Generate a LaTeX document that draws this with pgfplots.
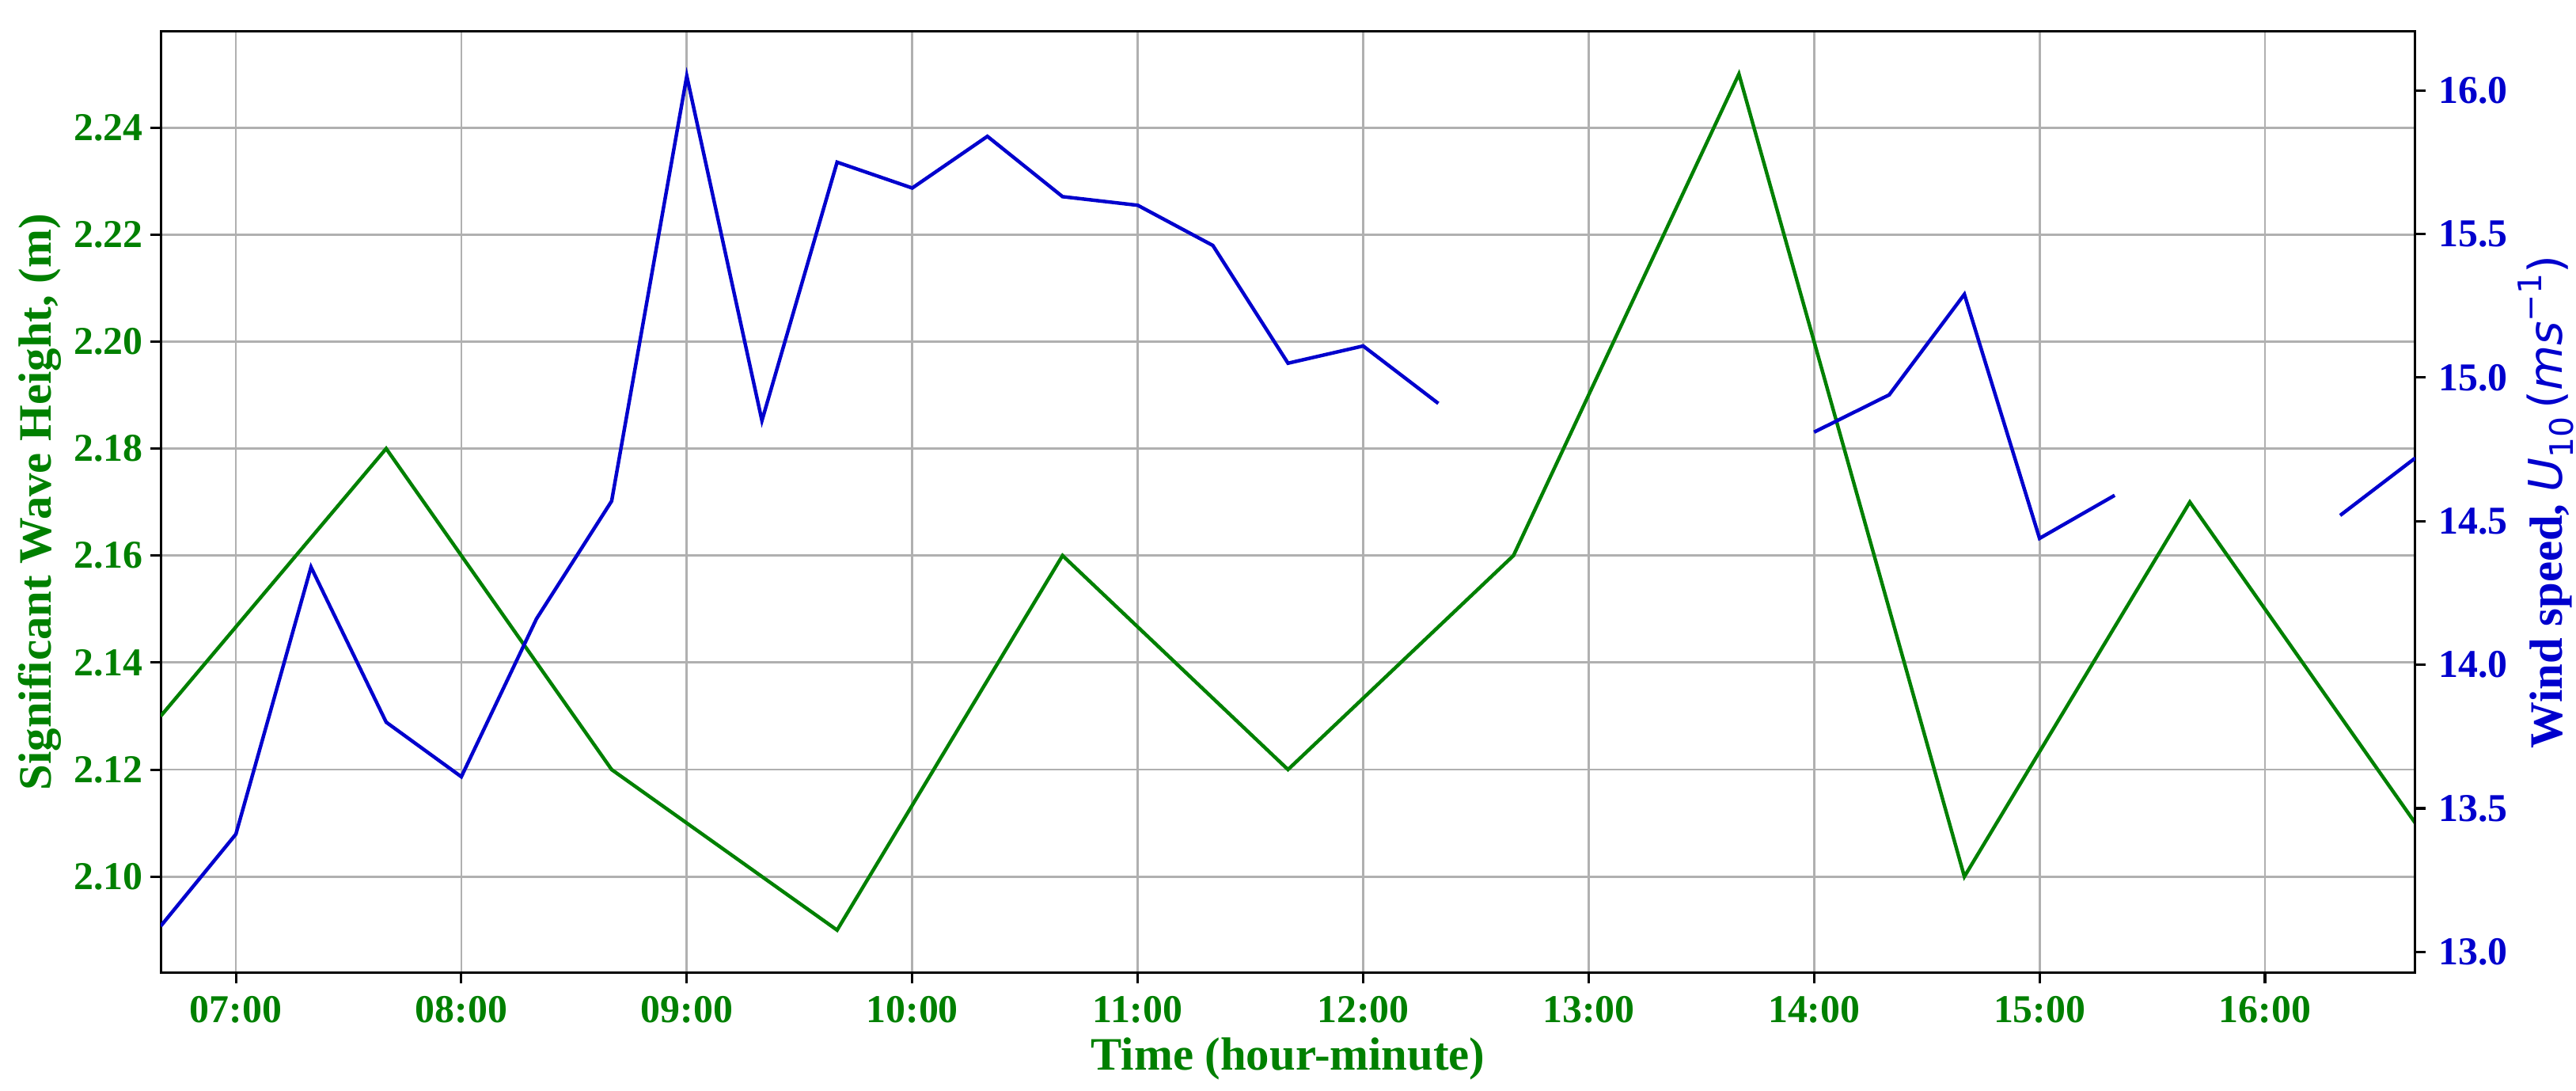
\documentclass[border=0pt]{standalone}
\usepackage{pgfplots}
\pgfplotsset{compat=1.18}
\usepackage{fontspec}
\setmainfont{Liberation Serif}
\newfontfamily\djv{DejaVu Sans}
\definecolor{wavegreen}{HTML}{008000}
\definecolor{windblue}{HTML}{0000CD}
\definecolor{gridgray}{HTML}{B0B0B0}

% time in minutes since midnight
\pgfplotstableread{
t    hs
400  2.13
460  2.18
520  2.12
580  2.09
640  2.16
700  2.12
760  2.16
820  2.25
880  2.10
940  2.17
1000 2.11
}\wavetable

\pgfplotstableread{
t    u
400  13.09
420  13.41
440  14.34
460  13.80
480  13.61
500  14.16
520  14.57
540  16.05
560  14.85
580  15.75
600  15.66
620  15.84
640  15.63
660  15.60
680  15.46
700  15.05
720  15.11
740  14.91
760  nan
840  nan
840  14.81
860  14.94
880  15.29
900  14.44
920  14.59
940  nan
960  nan
980  14.52
1000 14.72
}\windtable

\begin{document}
\begin{tikzpicture}
\pgfplotsset{
  common/.style={
    scale only axis, width=606pt, height=253pt,
    xmin=400, xmax=1000,
    axis line style={line width=0.65pt},
    tick align=outside,
    major tick length=2.7pt,
    tick style={line width=0.65pt, black},
    /pgf/number format/assume math mode=true,
  },
}
\begin{axis}[common, name=ax,
  ymin=2.082, ymax=2.258,
  xtick pos=left, ytick pos=left,
  xtick={420,480,...,960},
  xticklabels={07:00,08:00,09:00,10:00,11:00,12:00,13:00,14:00,15:00,16:00},
  ytick={2.10,2.12,...,2.241},
  tick label style={font=\bfseries\fontsize{10.6}{12}\selectfont, text=wavegreen},
  yticklabel style={xshift=1.5pt, /pgf/number format/.cd, fixed, fixed zerofill, precision=2},
  grid=major,
  grid style={line width=0.6pt, draw=gridgray},
  xlabel={Time (hour-minute)},
  ylabel={Significant Wave Height, (m)},
  label style={font=\bfseries\fontsize{12.5}{14}\selectfont, text=wavegreen},
  xlabel style={at={(axis description cs:0.5,-0.091)}, anchor=center},
  ylabel style={at={(axis description cs:-0.0537,0.5)}, anchor=center},
]
\addplot[wavegreen, line width=0.95pt] table[x=t, y=hs] {\wavetable};
\end{axis}
\begin{axis}[common,
  ymin=12.927, ymax=16.206,
  axis y line*=right, axis x line=none,
  ytick={13,13.5,...,16.01},
  tick label style={font=\bfseries\fontsize{10.6}{12}\selectfont, text=windblue},
  yticklabel style={/pgf/number format/.cd, fixed, fixed zerofill, precision=1},
  unbounded coords=jump,
  ylabel={Wind speed, {\djv\mdseries\itshape U}{\djv\mdseries\raisebox{-0.45ex}{\fontsize{8.7}{10}\selectfont 10}}\,{\djv\mdseries (}{\djv\mdseries\itshape ms}{\djv\mdseries\raisebox{0.8ex}{\fontsize{8.7}{10}\selectfont −1})}},
  label style={font=\bfseries\fontsize{12.5}{14}\selectfont, text=windblue},
  ylabel style={at={(axis description cs:1.058,0.5)}, anchor=center},
]
\addplot[windblue, line width=0.95pt] table[x=t, y=u] {\windtable};
\end{axis}
\pgfresetboundingbox
\path ([xshift=-43.2pt, yshift=-31.7pt]ax.south west) rectangle ([xshift=43.2pt, yshift=8.4pt]ax.north east);
\end{tikzpicture}
\end{document}
